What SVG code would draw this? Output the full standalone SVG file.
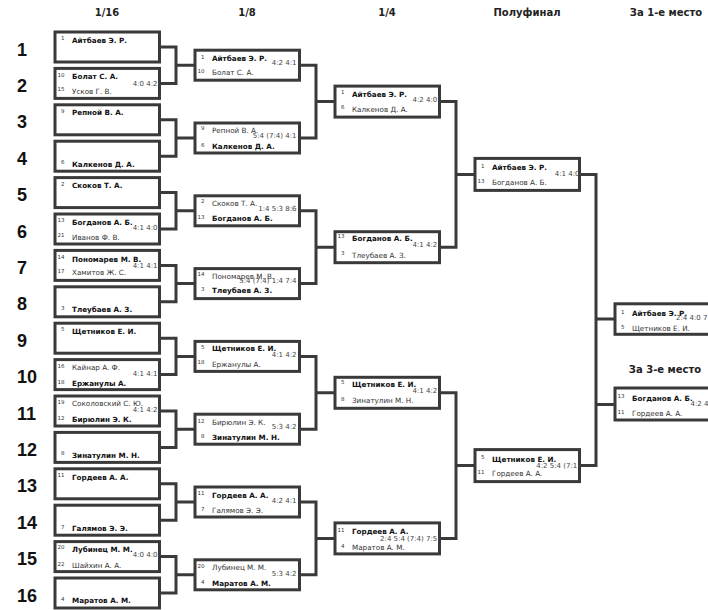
<svg xmlns="http://www.w3.org/2000/svg" width="708" height="610" viewBox="0 0 708 610">
<style>
.bg{fill:#fff}
.box{fill:#fff;stroke:#3a3a3a;stroke-width:3}
.conn{fill:none;stroke:#3a3a3a;stroke-width:3}
.h{font-family:"DejaVu Sans",sans-serif;font-weight:bold;font-size:10px;fill:#222;text-anchor:middle}
.rn{font-family:"Liberation Sans",Arial,sans-serif;font-weight:bold;font-size:18px;fill:#111}
.w{font-family:"DejaVu Sans",sans-serif;font-weight:bold;font-size:7.2px;fill:#111}
.l{font-family:"DejaVu Sans",sans-serif;font-size:7.2px;fill:#333}
.s{font-family:"DejaVu Sans",sans-serif;font-size:7px;fill:#444;text-anchor:end}
.ss{font-family:"DejaVu Sans",sans-serif;font-size:7px;fill:#444}
.sd{font-family:"DejaVu Sans",sans-serif;font-size:5.5px;fill:#333;text-anchor:end}
</style>
<rect class="bg" x="0" y="0" width="708" height="610"/>
<g id="headers">
<text class="h" x="107" y="16">1/16</text>
<text class="h" x="247" y="16">1/8</text>
<text class="h" x="387" y="16">1/4</text>
<text class="h" x="527" y="16">Полуфинал</text>
<text class="h" x="666" y="16">За 1-е место</text>
<text class="h" x="665" y="373">За 3-е место</text>
</g>
<g id="row-numbers">
<text class="rn" x="17" y="55.5">1</text>
<text class="rn" x="17" y="91.9">2</text>
<text class="rn" x="17" y="128.3">3</text>
<text class="rn" x="17" y="164.7">4</text>
<text class="rn" x="17" y="201.1">5</text>
<text class="rn" x="17" y="237.5">6</text>
<text class="rn" x="17" y="273.9">7</text>
<text class="rn" x="17" y="310.3">8</text>
<text class="rn" x="17" y="346.7">9</text>
<text class="rn" x="17" y="383.1">10</text>
<text class="rn" x="17" y="419.5">11</text>
<text class="rn" x="17" y="455.9">12</text>
<text class="rn" x="17" y="492.3">13</text>
<text class="rn" x="17" y="528.7">14</text>
<text class="rn" x="17" y="565.1">15</text>
<text class="rn" x="17" y="601.5">16</text>
</g>
<g id="connectors">
<path class="conn" d="M158 47H176V83.4H158M176 65.2H196"/>
<path class="conn" d="M158 119.8H176V156.2H158M176 138H196"/>
<path class="conn" d="M158 192.6H176V229H158M176 210.8H196"/>
<path class="conn" d="M158 265.4H176V301.8H158M176 283.6H196"/>
<path class="conn" d="M158 338.2H176V374.6H158M176 356.4H196"/>
<path class="conn" d="M158 411H176V447.4H158M176 429.2H196"/>
<path class="conn" d="M158 483.8H176V520.2H158M176 502H196"/>
<path class="conn" d="M158 556.6H176V593H158M176 574.8H196"/>
<path class="conn" d="M298 65.2H316V138H298M316 101.6H336"/>
<path class="conn" d="M298 210.8H316V283.6H298M316 247.2H336"/>
<path class="conn" d="M298 356.4H316V429.2H298M316 392.8H336"/>
<path class="conn" d="M298 502H316V574.8H298M316 538.4H336"/>
<path class="conn" d="M438 101.6H456V247.2H438M456 174.4H476"/>
<path class="conn" d="M438 392.8H456V538.4H438M456 465.6H476"/>
<path class="conn" d="M578 174.4H596V465.6H578M596 319H616M596 404.5H616"/>
</g>
<g id="r16-1"><rect class="box" x="55" y="32" width="104.5" height="30"/>
<text class="sd" x="64.5" y="40">1</text><text class="w" x="72" y="42.5">Айтбаев Э. Р.</text></g>
<g id="r16-2"><rect class="box" x="55" y="68.4" width="104.5" height="30"/>
<text class="sd" x="64.5" y="76.5">10</text><text class="w" x="72" y="79">Болат С. А.</text>
<text class="sd" x="64.5" y="91">15</text><text class="l" x="72" y="93.5">Усков Г. В.</text>
<text class="s" x="157.5" y="86">4:0 4:2</text></g>
<g id="r16-3"><rect class="box" x="55" y="104.8" width="104.5" height="30"/>
<text class="sd" x="64.5" y="112.8">9</text><text class="w" x="72" y="115.3">Репной В. А.</text></g>
<g id="r16-4"><rect class="box" x="55" y="141.2" width="104.5" height="30"/>
<text class="sd" x="64.5" y="164.2">6</text><text class="w" x="72" y="166.7">Калкенов Д. А.</text></g>
<g id="r16-5"><rect class="box" x="55" y="177.6" width="104.5" height="30"/>
<text class="sd" x="64.5" y="185.5">2</text><text class="w" x="72" y="188">Скоков Т. А.</text></g>
<g id="r16-6"><rect class="box" x="55" y="214" width="104.5" height="30"/>
<text class="sd" x="64.5" y="222.3">13</text><text class="w" x="72" y="224.8">Богданов А. Б.</text>
<text class="sd" x="64.5" y="237.3">21</text><text class="l" x="72" y="239.8">Иванов Ф. В.</text>
<text class="s" x="157.5" y="230">4:1 4:0</text></g>
<g id="r16-7"><rect class="box" x="55" y="250.4" width="104.5" height="30"/>
<text class="sd" x="64.5" y="259">14</text><text class="w" x="72" y="261.5">Пономарев М. В.</text>
<text class="sd" x="64.5" y="272.5">17</text><text class="l" x="72" y="275">Хамитов Ж. С.</text>
<text class="s" x="157.5" y="267.5">4:1 4:1</text></g>
<g id="r16-8"><rect class="box" x="55" y="286.8" width="104.5" height="30"/>
<text class="sd" x="64.5" y="309.8">3</text><text class="w" x="72" y="312.3">Тлеубаев А. З.</text></g>
<g id="r16-9"><rect class="box" x="55" y="323.2" width="104.5" height="30"/>
<text class="sd" x="64.5" y="331">5</text><text class="w" x="72" y="333.5">Щетников Е. И.</text></g>
<g id="r16-10"><rect class="box" x="55" y="359.6" width="104.5" height="30"/>
<text class="sd" x="64.5" y="367.5">16</text><text class="l" x="72" y="370">Кайнар А. Ф.</text>
<text class="sd" x="64.5" y="383.5">18</text><text class="w" x="72" y="386">Ержанулы А.</text>
<text class="s" x="157.5" y="376">4:1 4:1</text></g>
<g id="r16-11"><rect class="box" x="55" y="396" width="104.5" height="30"/>
<text class="sd" x="64.5" y="403.5">19</text><text class="l" x="72" y="406">Соколовский С. Ю.</text>
<text class="sd" x="64.5" y="419.5">12</text><text class="w" x="72" y="422">Бирюлин Э. К.</text>
<text class="s" x="157.5" y="412.3">4:1 4:2</text></g>
<g id="r16-12"><rect class="box" x="55" y="432.4" width="104.5" height="30"/>
<text class="sd" x="64.5" y="455.4">8</text><text class="w" x="72" y="457.9">Зинатулин М. Н.</text></g>
<g id="r16-13"><rect class="box" x="55" y="468.8" width="104.5" height="30"/>
<text class="sd" x="64.5" y="477">11</text><text class="w" x="72" y="479.5">Гордеев А. А.</text></g>
<g id="r16-14"><rect class="box" x="55" y="505.2" width="104.5" height="30"/>
<text class="sd" x="64.5" y="528.5">7</text><text class="w" x="72" y="531">Галямов Э. Э.</text></g>
<g id="r16-15"><rect class="box" x="55" y="541.6" width="104.5" height="30"/>
<text class="sd" x="64.5" y="549">20</text><text class="w" x="72" y="551.5">Лубинец М. М.</text>
<text class="sd" x="64.5" y="565.5">22</text><text class="l" x="72" y="568">Шайхин А. А.</text>
<text class="s" x="157.5" y="556.7">4:0 4:0</text></g>
<g id="r16-16"><rect class="box" x="55" y="578" width="104.5" height="30"/>
<text class="sd" x="64.5" y="600.8">4</text><text class="w" x="72" y="603.3">Маратов А. М.</text></g>

<g id="r8-1"><rect class="box" x="195" y="50.2" width="104.5" height="30"/>
<text class="sd" x="204.5" y="58.6">1</text><text class="w" x="212" y="61.1">Айтбаев Э. Р.</text>
<text class="s" x="296.5" y="65.1">4:2 4:1</text>
<text class="sd" x="204.5" y="72.9">10</text><text class="l" x="212" y="75.4">Болат С. А.</text></g>
<g id="r8-2"><rect class="box" x="195" y="123" width="104.5" height="30"/>
<text class="sd" x="204.5" y="130">9</text><text class="l" x="212" y="132.5">Репной В. А.</text>
<text class="s" x="296.5" y="138">5:4 (7:4) 4:1</text>
<text class="sd" x="204.5" y="146.5">6</text><text class="w" x="212" y="149">Калкенов Д. А.</text></g>
<g id="r8-3"><rect class="box" x="195" y="195.8" width="104.5" height="30"/>
<text class="sd" x="204.5" y="203">2</text><text class="l" x="212" y="205.5">Скоков Т. А.</text>
<text class="s" x="296.5" y="210.7">1:4 5:3 8:6</text>
<text class="sd" x="204.5" y="218.5">13</text><text class="w" x="212" y="221">Богданов А. Б.</text></g>
<g id="r8-4"><rect class="box" x="195" y="268.6" width="104.5" height="30"/>
<text class="sd" x="204.5" y="276">14</text><text class="l" x="212" y="278.5">Пономарев М. В.</text>
<text class="s" x="296.5" y="283.3">5:4 (7:4) 1:4 7:4</text>
<text class="sd" x="204.5" y="290.5">3</text><text class="w" x="212" y="293">Тлеубаев А. З.</text></g>
<g id="r8-5"><rect class="box" x="195" y="341.4" width="104.5" height="30"/>
<text class="sd" x="204.5" y="348.5">5</text><text class="w" x="212" y="351">Щетников Е. И.</text>
<text class="s" x="296.5" y="357.3">4:1 4:2</text>
<text class="sd" x="204.5" y="364">18</text><text class="l" x="212" y="366.5">Ержанулы А.</text></g>
<g id="r8-6"><rect class="box" x="195" y="414.2" width="104.5" height="30"/>
<text class="sd" x="204.5" y="422.5">12</text><text class="l" x="212" y="425">Бирюлин Э. К.</text>
<text class="s" x="296.5" y="429.3">5:3 4:2</text>
<text class="sd" x="204.5" y="437.5">8</text><text class="w" x="212" y="440">Зинатулин М. Н.</text></g>
<g id="r8-7"><rect class="box" x="195" y="487" width="104.5" height="30"/>
<text class="sd" x="204.5" y="495.2">11</text><text class="w" x="212" y="497.7">Гордеев А. А.</text>
<text class="s" x="296.5" y="503.3">4:2 4:1</text>
<text class="sd" x="204.5" y="510.8">7</text><text class="l" x="212" y="513.3">Галямов Э. Э.</text></g>
<g id="r8-8"><rect class="box" x="195" y="559.8" width="104.5" height="30"/>
<text class="sd" x="204.5" y="567.5">20</text><text class="l" x="212" y="570">Лубинец М. М.</text>
<text class="s" x="296.5" y="575.7">5:3 4:2</text>
<text class="sd" x="204.5" y="583.5">4</text><text class="w" x="212" y="586">Маратов А. М.</text></g>

<g id="qf-1"><rect class="box" x="335" y="86.1" width="104.5" height="31"/>
<text class="sd" x="344.5" y="94.2">1</text><text class="w" x="352" y="96.7">Айтбаев Э. Р.</text>
<text class="s" x="437.3" y="102">4:2 4:0</text>
<text class="sd" x="344.5" y="109.2">6</text><text class="l" x="352" y="111.7">Калкенов Д. А.</text></g>
<g id="qf-2"><rect class="box" x="335" y="231.7" width="104.5" height="31"/>
<text class="sd" x="344.5" y="238.2">13</text><text class="w" x="352" y="240.7">Богданов А. Б.</text>
<text class="s" x="437.3" y="246.7">4:1 4:2</text>
<text class="sd" x="344.5" y="255">3</text><text class="l" x="352" y="257.5">Тлеубаев А. З.</text></g>
<g id="qf-3"><rect class="box" x="335" y="377.3" width="104.5" height="31"/>
<text class="sd" x="344.5" y="384.2">5</text><text class="w" x="352" y="386.7">Щетников Е. И.</text>
<text class="s" x="437.3" y="393.3">4:1 4:2</text>
<text class="sd" x="344.5" y="400.8">8</text><text class="l" x="352" y="403.3">Зинатулин М. Н.</text></g>
<g id="qf-4"><rect class="box" x="335" y="522.9" width="104.5" height="31"/>
<text class="sd" x="344.5" y="531.8">11</text><text class="w" x="352" y="534.3">Гордеев А. А.</text>
<text class="s" x="437.3" y="541">2:4 5:4 (7:4) 7:5</text>
<text class="sd" x="344.5" y="547.5">4</text><text class="l" x="352" y="550">Маратов А. М.</text></g>

<g id="sf-1"><rect class="box" x="475" y="158.4" width="104.5" height="32"/>
<text class="sd" x="484.5" y="167.5">1</text><text class="w" x="492" y="170">Айтбаев Э. Р.</text>
<text class="s" x="579.5" y="176">4:1 4:0</text>
<text class="sd" x="484.5" y="182.5">13</text><text class="l" x="492" y="185">Богданов А. Б.</text></g>
<g id="sf-2"><rect class="box" x="475" y="449.6" width="104.5" height="32"/>
<text class="sd" x="484.5" y="459.2">5</text><text class="w" x="492" y="461.7">Щетников Е. И.</text>
<text class="s" x="580" y="467.7">4:2 5:4 (7:1)</text>
<text class="sd" x="484.5" y="473.5">11</text><text class="l" x="492" y="476">Гордеев А. А.</text></g>

<g id="final"><rect class="box" x="615" y="303.8" width="104.5" height="30.5"/>
<text class="sd" x="624.5" y="313.5">1</text><text class="w" x="632" y="316">Айтбаев Э. Р.</text>
<text class="ss" x="676" y="320">2:4 4:0 7</text>
<text class="sd" x="624.5" y="328.5">5</text><text class="l" x="632" y="331">Щетников Е. И.</text></g>
<g id="third"><rect class="box" x="615" y="388" width="104.5" height="32"/>
<text class="sd" x="624.5" y="398">13</text><text class="w" x="632" y="400.5">Богданов А. Б.</text>
<text class="ss" x="690.5" y="405.5">4:2 4</text>
<text class="sd" x="624.5" y="413.5">11</text><text class="l" x="632" y="416">Гордеев А. А.</text></g>
</svg>
